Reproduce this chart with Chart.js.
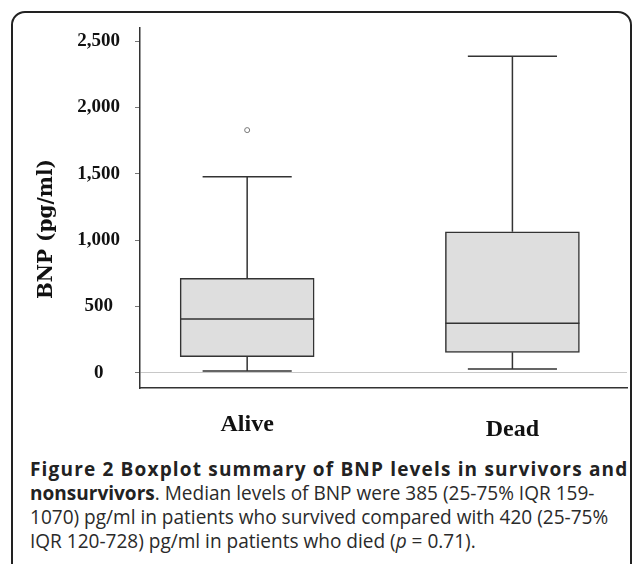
<!DOCTYPE html>
<html>
<head>
<meta charset="utf-8">
<script src="https://cdn.jsdelivr.net/npm/chart.js@4.4.0/dist/chart.umd.min.js"></script>
<style>
  html, body { margin: 0; padding: 0; background: #fff; }
  body { width: 632px; height: 564px; position: relative; overflow: hidden; }
  #frame { position: absolute; left: 11px; top: 11px; width: 621px; height: 700px;
           border: 2px solid #222; border-radius: 14px; box-sizing: border-box; }
  #chart { position: absolute; left: 0; top: 0; }
  #caption { position: absolute; left: 30px; top: 457px; font-family: "Open Sans", sans-serif;
             font-size: 16px; line-height: 24px; color: #2a2a2a; white-space: nowrap; }
  #caption b { font-weight: 700; color: #222; }
</style>
</head>
<body>
<div id="frame"></div>
<canvas id="chart" width="632" height="450"></canvas>
<div id="caption">
  <b id="l1">Figure 2 Boxplot summary of BNP levels in survivors and</b><br>
  <b>nonsurvivors</b>. Median levels of BNP were 385 (25-75% IQR 159-<br>
  1070) pg/ml in patients who survived compared with 420 (25-75%<br>
  <span id="l4">IQR 120-728) pg/ml in patients who died (<i>p</i> = 0.71).</span>
</div>
<script>
// values
const groups = ['Alive', 'Dead'];
const lowWhisker = [13, 28];
const q1 = [121, 154];
const median = [406, 373];
const q3 = [713, 1063];
const highWhisker = [1478, 2387];
const outliers = [[1830], []];
const yTicks = [0, 500, 1000, 1500, 2000, 2500];

const boxData = groups.map((g, i) => ({ x: i + 1, y: [q1[i], q3[i]] }));
const outlierData = [];
outliers.forEach((list, i) => list.forEach(v => outlierData.push({ x: i + 1, y: v })));

// whiskers, medians and the hand-placed labels
const boxParts = {
  id: 'boxParts',
  afterDatasetsDraw(chart) {
    const { ctx, scales: { x, y } } = chart;
    const bars = chart.getDatasetMeta(0).data;
    ctx.save();
    ctx.strokeStyle = '#333';
    ctx.lineWidth = 1.5;
    groups.forEach((g, i) => {
      const cx = x.getPixelForValue(i + 1);
      const capL = x.getPixelForValue(i + 1 - 0.168);
      const capR = x.getPixelForValue(i + 1 + 0.168);
      const half = bars[i].width / 2;
      ctx.beginPath();
      // upper whisker
      ctx.moveTo(cx, y.getPixelForValue(q3[i]));
      ctx.lineTo(cx, y.getPixelForValue(highWhisker[i]));
      ctx.moveTo(capL, y.getPixelForValue(highWhisker[i]));
      ctx.lineTo(capR, y.getPixelForValue(highWhisker[i]));
      // lower whisker
      ctx.moveTo(cx, y.getPixelForValue(q1[i]));
      ctx.lineTo(cx, y.getPixelForValue(lowWhisker[i]));
      ctx.moveTo(capL, y.getPixelForValue(lowWhisker[i]));
      ctx.lineTo(capR, y.getPixelForValue(lowWhisker[i]));
      // median
      ctx.moveTo(bars[i].x - half, y.getPixelForValue(median[i]));
      ctx.lineTo(bars[i].x + half, y.getPixelForValue(median[i]));
      ctx.stroke();
    });
    ctx.restore();
  },
  afterDraw(chart) {
    const { ctx, scales: { x }, chartArea } = chart;
    ctx.save();
    ctx.fillStyle = '#111';
    ctx.textAlign = 'center';
    ctx.textBaseline = 'alphabetic';
    ctx.font = 'bold 24px "Liberation Serif"';
    const drop = [43, 48];
    groups.forEach((g, i) => {
      ctx.fillText(g, x.getPixelForValue(i + 1), chartArea.bottom + drop[i]);
    });
    ctx.translate(47, 229);
    ctx.rotate(-Math.PI / 2);
    ctx.textBaseline = 'middle';
    ctx.font = 'bold 20px "DejaVu Serif"';
    ctx.fillText('BNP (pg/ml)', 0, 0);
    ctx.restore();
  }
};

new Chart(document.getElementById('chart'), {
  type: 'bar',
  data: {
    datasets: [{
      data: boxData,
      backgroundColor: '#dedede',
      borderColor: '#333',
      borderWidth: 1.5,
      borderSkipped: false,
      barThickness: 134
    }, {
      type: 'scatter',
      data: outlierData,
      pointRadius: 2.5,
      pointBorderWidth: 1,
      borderColor: '#777',
      backgroundColor: 'rgba(0,0,0,0)'
    }]
  },
  options: {
    responsive: false,
    animation: false,
    devicePixelRatio: 1,
    layout: { padding: { top: 28, right: 0, bottom: 62, left: 0 } },
    plugins: { legend: { display: false }, tooltip: { enabled: false } },
    scales: {
      x: {
        type: 'linear',
        offset: false,
        min: 0.596,
        max: 2.432,
        ticks: { display: false },
        grid: { display: false, drawTicks: false },
        border: { color: '#333', width: 1.5 }
      },
      y: {
        min: -115,
        max: 2600,
        afterBuildTicks: s => { s.ticks = yTicks.map(v => ({ value: v })); },
        afterFit: s => { s.width = 140; },
        ticks: {
          crossAlign: 'center',
          padding: 15,
          color: '#111',
          font: { family: 'Liberation Serif', weight: 'bold', size: 19 },
          callback: v => v.toLocaleString('en-US')
        },
        grid: {
          color: c => (c.tick && c.tick.value === 0 ? '#c8c8c8' : 'rgba(0,0,0,0)'),
          tickColor: '#777',
          tickLength: 5
        },
        border: { color: '#333', width: 1.5 }
      }
    }
  },
  plugins: [boxParts]
});

// fit the caption to the measured line lengths
const cap = document.getElementById('caption');
const w4 = document.getElementById('l4').getBoundingClientRect().width;
cap.style.fontSize = (16 * 446 / w4).toFixed(2) + 'px';
const l1 = document.getElementById('l1');
const w1 = l1.getBoundingClientRect().width;
l1.style.letterSpacing = ((597 - w1) / (l1.textContent.length - 1)).toFixed(2) + 'px';
</script>
</body>
</html>
